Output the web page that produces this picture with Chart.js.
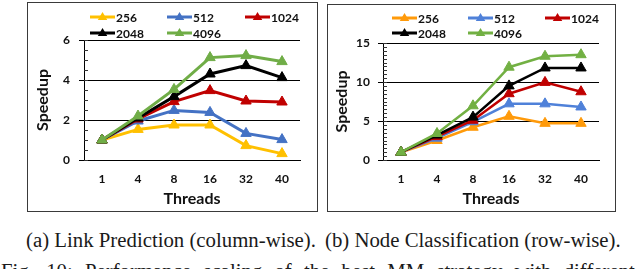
<!DOCTYPE html>
<html lang="en">
<head>
<meta charset="UTF-8">
<title>Speedup vs threads</title>
<script src="https://cdn.jsdelivr.net/npm/chart.js"></script>
<style>
  html, body { margin: 0; padding: 0; background: #fff; overflow: hidden; }
  body { width: 640px; height: 269px; position: relative; }
  .box { position: absolute; border: 1.5px solid #3a3a3a; box-sizing: border-box; }
  .cv { position: absolute; }
  .cap { position: absolute; font-family: "Liberation Serif", serif; font-size: 20.8px; line-height: 21px; color: #1a1a1a; white-space: nowrap; }
</style>
</head>
<body>

<div class="box" style="left:27px; top:2px; width:291px; height:210px;"></div>
<div class="box" style="left:327px; top:4px; width:289px; height:208px;"></div>

<div class="cv" style="left:28px; top:3px; width:288px; height:207px;">
  <canvas id="chartA"></canvas>
</div>
<div class="cv" style="left:328px; top:5px; width:286px; height:205px;">
  <canvas id="chartB"></canvas>
</div>

<div class="cap" style="left:26px; top:229px;">(a) Link Prediction (column-wise).</div>
<div class="cap" style="left:325px; top:229px;">(b) Node Classification (row-wise).</div>
<div class="cap" style="left:1px; top:260px; word-spacing:7px;">Fig. 10: Performance scaling of the best MM strategy with different</div>

<script>
// thread counts on the x axis and matrix sizes (series)
const threads = ['1', '4', '8', '16', '32', '40'];
const sizes = ['256', '512', '1024', '2048', '4096'];

// (a) link prediction, column-wise
const lp256  = [1, 1.53, 1.75, 1.75, 0.72, 0.32];
const lp512  = [1, 1.95, 2.48, 2.38, 1.33, 1.02];
const lp1024 = [1, 2.05, 2.92, 3.47, 2.95, 2.90];
const lp2048 = [1, 2.10, 3.17, 4.30, 4.72, 4.12];
const lp4096 = [1, 2.20, 3.53, 5.12, 5.22, 4.92];

// (b) node classification, row-wise
const nc256  = [1, 2.5, 4.2, 5.6, 4.7, 4.7];
const nc512  = [1, 2.8, 4.9, 7.2, 7.2, 6.8];
const nc1024 = [1, 3.0, 5.1, 8.5, 9.95, 8.75];
const nc2048 = [1, 3.2, 5.5, 9.5, 11.8, 11.8];
const nc4096 = [1, 3.4, 6.95, 11.9, 13.3, 13.5];

const colorsA = ['#FFC000', '#4472C4', '#C00000', '#000000', '#70AD47'];
const colorsB = ['#FF9A0A', '#4F81D9', '#C00000', '#000000', '#72B043'];

const FONT = 'Lato, "Liberation Sans", sans-serif';

function makeSets(series, colors, width) {
  return series.map((vals, i) => ({
    label: sizes[i],
    data: vals,
    borderColor: colors[i],
    backgroundColor: colors[i],
    borderWidth: width,
    pointStyle: 'triangle',
    pointRadius: 6,
    pointHoverRadius: 6,
    pointBorderWidth: 1,
    tension: 0,
    order: series.length - i
  }));
}

// legend laid out in fixed columns like the original
const gridLegend = {
  id: 'gridLegend',
  afterDraw(chart, args, opts) {
    const ctx = chart.ctx;
    ctx.save();
    chart.data.datasets.forEach((ds, i) => {
      const col = i % 3, row = Math.floor(i / 3);
      const x = opts.cols[col], y = opts.rows[row];
      ctx.strokeStyle = ds.borderColor;
      ctx.lineWidth = opts.lineWidth;
      ctx.beginPath();
      ctx.moveTo(x, y);
      ctx.lineTo(x + 25, y);
      ctx.stroke();
      ctx.fillStyle = ds.borderColor;
      const r = 5, cx = x + 12.5;
      ctx.beginPath();
      ctx.moveTo(cx, y - r);
      ctx.lineTo(cx + r * 0.95, y + r * 0.6);
      ctx.lineTo(cx - r * 0.95, y + r * 0.6);
      ctx.closePath();
      ctx.fill();
      ctx.fillStyle = '#111';
      ctx.font = 'bold 12px ' + FONT;
      ctx.textBaseline = 'middle';
      ctx.textAlign = 'left';
      ctx.fillText(ds.label, x + 26, y + 1);
    });
    ctx.restore();
  }
};

// small inside tick marks on the y axis
const minorTicks = {
  id: 'minorTicks',
  afterDraw(chart, args, opts) {
    const y = chart.scales.y, ctx = chart.ctx;
    const x0 = chart.chartArea.left;
    ctx.save();
    ctx.strokeStyle = '#333';
    ctx.lineWidth = 1;
    for (let v = y.min; v <= y.max + 1e-9; v += opts.step) {
      const py = Math.round(y.getPixelForValue(v)) + 0.5;
      ctx.beginPath();
      ctx.moveTo(x0, py);
      ctx.lineTo(x0 + 4, py);
      ctx.stroke();
    }
    ctx.restore();
  }
};

function drawChart(id, series, colors, yMax, yStep, minor, lay) {
  new Chart(document.getElementById(id), {
    type: 'line',
    data: { labels: threads, datasets: makeSets(series, colors, lay.lw) },
    options: {
      responsive: true,
      maintainAspectRatio: false,
      animation: false,
      layout: { padding: { top: lay.top, right: lay.right, left: 0, bottom: 0 } },
      plugins: {
        legend: { display: false },
        tooltip: { enabled: false },
        gridLegend: { cols: lay.cols, rows: lay.rows, lineWidth: 3 },
        minorTicks: { step: minor }
      },
      scales: {
        x: {
          offset: true,
          grid: { display: false, drawTicks: false },
          border: { display: true, color: '#000', width: 1 },
          ticks: { color: '#111', padding: 12, font: { family: FONT, size: 12, weight: 'bold' } },
          title: { display: true, text: 'Threads', color: '#111', padding: { top: 0, bottom: 2 },
                   font: { family: FONT, size: 16, weight: 'bold' } },
          afterFit(s) { s.height = 50; }
        },
        y: {
          min: 0, max: yMax,
          grid: { color: '#000', lineWidth: 1, drawTicks: true, tickLength: 5 },
          border: { display: true, color: '#000', width: 1 },
          ticks: { stepSize: yStep, color: '#111', padding: lay.tpad, font: { family: FONT, size: 12, weight: 'bold' } },
          title: { display: true, text: 'Speedup', color: '#111', padding: { top: lay.titlePad, bottom: 0 },
                   font: { family: FONT, size: 16, weight: 'bold' } },
          afterFit(s) { s.width = lay.yw; }
        }
      }
    },
    plugins: [gridLegend, minorTicks]
  });
}

drawChart('chartA', [lp256, lp512, lp1024, lp2048, lp4096], colorsA, 6, 2, 0.5,
  { top: 37, right: 16, yw: 56, tpad: 9, titlePad: 5, lw: 3, cols: [62, 139, 217], rows: [14, 30] });
drawChart('chartB', [nc256, nc512, nc1024, nc2048, nc4096], colorsB, 15, 5, 0.5,
  { top: 38, right: 15, yw: 55, tpad: 8, titlePad: 4, lw: 2.5, cols: [64, 140, 217], rows: [13, 28] });
</script>
</body>
</html>
